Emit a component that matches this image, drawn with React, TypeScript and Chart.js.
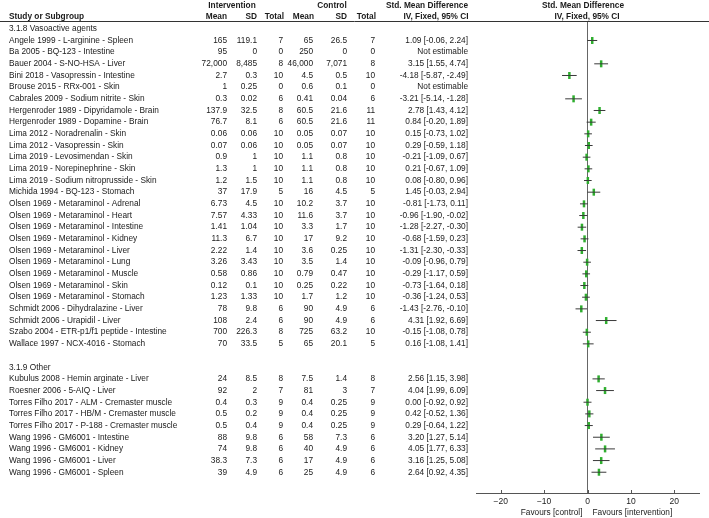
import React, { useEffect, useRef } from "react";
import { Chart, registerables } from "chart.js";

Chart.register(...registerables);

const groupNames = ["3.1.8 Vasoactive agents", "3.1.9 Other"];
const groupSizes = [27, 9];

const studies = [
  "Angele 1999 - L-arginine - Spleen",
  "Ba 2005 - BQ-123 - Intestine",
  "Bauer 2004 - S-NO-HSA - Liver",
  "Bini 2018 - Vasopressin - Intestine",
  "Brouse 2015 - RRx-001 - Skin",
  "Cabrales 2009 - Sodium nitrite - Skin",
  "Hergenroder 1989 - Dipyridamole - Brain",
  "Hergenroder 1989 - Dopamine - Brain",
  "Lima 2012 - Noradrenalin - Skin",
  "Lima 2012 - Vasopressin - Skin",
  "Lima 2019 - Levosimendan - Skin",
  "Lima 2019 - Norepinephrine - Skin",
  "Lima 2019 - Sodium nitroprusside - Skin",
  "Michida 1994 - BQ-123 - Stomach",
  "Olsen 1969 - Metaraminol - Adrenal",
  "Olsen 1969 - Metaraminol - Heart",
  "Olsen 1969 - Metaraminol - Intestine",
  "Olsen 1969 - Metaraminol - Kidney",
  "Olsen 1969 - Metaraminol - Liver",
  "Olsen 1969 - Metaraminol - Lung",
  "Olsen 1969 - Metaraminol - Muscle",
  "Olsen 1969 - Metaraminol - Skin",
  "Olsen 1969 - Metaraminol - Stomach",
  "Schmidt 2006 - Dihydralazine - Liver",
  "Schmidt 2006 - Urapidil - Liver",
  "Szabo 2004 - ETR-p1/f1 peptide - Intestine",
  "Wallace 1997 - NCX-4016 - Stomach",
  "Kubulus 2008 - Hemin arginate - Liver",
  "Roesner 2006 - 5-AIQ - Liver",
  "Torres Filho 2017 - ALM - Cremaster muscle",
  "Torres Filho 2017 - HB/M - Cremaster muscle",
  "Torres Filho 2017 - P-188 - Cremaster muscle",
  "Wang 1996 - GM6001 - Intestine",
  "Wang 1996 - GM6001 - Kidney",
  "Wang 1996 - GM6001 - Liver",
  "Wang 1996 - GM6001 - Spleen",
];

const intMean = [165, 95, 72000, 2.7, 1, 0.3, 137.9, 76.7, 0.06, 0.07, 0.9, 1.3, 1.2, 37, 6.73, 7.57, 1.41, 11.3, 2.22, 3.26, 0.58, 0.12, 1.23, 78, 108, 700, 70, 24, 92, 0.4, 0.5, 0.5, 88, 74, 38.3, 39];
const intSD = [119.1, 0, 8485, 0.3, 0.25, 0.02, 32.5, 8.1, 0.06, 0.06, 1, 1, 1.5, 17.9, 4.5, 4.33, 1.04, 6.7, 1.4, 3.43, 0.86, 0.1, 1.33, 9.8, 2.4, 226.3, 33.5, 8.5, 2, 0.3, 0.2, 0.4, 9.8, 9.8, 7.3, 4.9];
const intTotal = [7, 0, 8, 10, 0, 6, 8, 6, 10, 10, 10, 10, 10, 5, 10, 10, 10, 10, 10, 10, 10, 10, 10, 6, 6, 8, 5, 8, 7, 9, 9, 9, 6, 6, 6, 6];
const ctlMean = [65, 250, 46000, 4.5, 0.6, 0.41, 60.5, 60.5, 0.05, 0.05, 1.1, 1.1, 1.1, 16, 10.2, 11.6, 3.3, 17, 3.6, 3.5, 0.79, 0.25, 1.7, 90, 90, 725, 65, 7.5, 81, 0.4, 0.4, 0.4, 58, 40, 17, 25];
const ctlSD = [26.5, 0, 7071, 0.5, 0.1, 0.04, 21.6, 21.6, 0.07, 0.07, 0.8, 0.8, 0.8, 4.5, 3.7, 3.7, 1.7, 9.2, 0.25, 1.4, 0.47, 0.22, 1.2, 4.9, 4.9, 63.2, 20.1, 1.4, 3, 0.25, 0.25, 0.25, 7.3, 4.9, 4.9, 4.9];
const ctlTotal = [7, 0, 8, 10, 0, 6, 11, 11, 10, 10, 10, 10, 10, 5, 10, 10, 10, 10, 10, 10, 10, 10, 10, 6, 6, 10, 5, 8, 7, 9, 9, 9, 6, 6, 6, 6];
const smd = [1.09, null, 3.15, -4.18, null, -3.21, 2.78, 0.84, 0.15, 0.29, -0.21, 0.21, 0.08, 1.45, -0.81, -0.96, -1.28, -0.68, -1.31, -0.09, -0.29, -0.73, -0.36, -1.43, 4.31, -0.15, 0.16, 2.56, 4.04, 0.0, 0.42, 0.29, 3.2, 4.05, 3.16, 2.64];
const ciLow = [-0.06, null, 1.55, -5.87, null, -5.14, 1.43, -0.2, -0.73, -0.59, -1.09, -0.67, -0.8, -0.03, -1.73, -1.9, -2.27, -1.59, -2.3, -0.96, -1.17, -1.64, -1.24, -2.76, 1.92, -1.08, -1.08, 1.15, 1.99, -0.92, -0.52, -0.64, 1.27, 1.77, 1.25, 0.92];
const ciHigh = [2.24, null, 4.74, -2.49, null, -1.28, 4.12, 1.89, 1.02, 1.18, 0.67, 1.09, 0.96, 2.94, 0.11, -0.02, -0.3, 0.23, -0.33, 0.79, 0.59, 0.18, 0.53, -0.1, 6.69, 0.78, 1.41, 3.98, 6.09, 0.92, 1.36, 1.22, 5.14, 6.33, 5.08, 4.35];

const xTicks = [-20, -10, 0, 10, 20];
const favoursLeft = "Favours [control]";
const favoursRight = "Favours [intervention]";

const FONT = '"Liberation Sans", Arial, sans-serif';
const FS = 8.3;

type Row = { kind: "group" | "study"; pos: number; index: number };

function buildRows(): Row[] {
  const rows: Row[] = [];
  let pos = -1;
  let s = 0;
  groupSizes.forEach((size, g) => {
    rows.push({ kind: "group", pos, index: g });
    pos++;
    for (let k = 0; k < size; k++) {
      rows.push({ kind: "study", pos, index: s });
      s++;
      pos++;
    }
    pos++;
  });
  return rows;
}

const fmt = (v: number) => v.toLocaleString("en-US", { maximumFractionDigits: 3 });

export default function App() {
  const ref = useRef<HTMLCanvasElement | null>(null);

  useEffect(() => {
    document.body.style.margin = "0";
    const canvas = ref.current;
    if (!canvas) return;
    const rows = buildRows();
    const studyRows = rows.filter((r) => r.kind === "study");

    const ciPoints: { x: number; y: number }[] = [];
    const estPoints: { x: number; y: number }[] = [];
    studyRows.forEach((r) => {
      const i = r.index;
      if (smd[i] === null) return;
      ciPoints.push({ x: ciLow[i] as number, y: r.pos });
      ciPoints.push({ x: ciHigh[i] as number, y: r.pos });
      ciPoints.push({ x: NaN, y: NaN });
      estPoints.push({ x: smd[i] as number, y: r.pos });
    });

    const tablePlugin = {
      id: "forestTable",
      afterDraw(chart: any) {
        const ctx = chart.ctx as CanvasRenderingContext2D;
        const ys = chart.scales.y;
        const xs = chart.scales.x;
        ctx.save();
        ctx.fillStyle = "#1a1a1a";
        ctx.textBaseline = "middle";
        const txt = (s: string, px: number, py: number, align: CanvasTextAlign, bold = false) => {
          ctx.font = `${bold ? "bold " : ""}${FS}px ${FONT}`;
          ctx.textAlign = align;
          ctx.fillText(s, px, py);
        };
        // headers
        const h1 = 5.5;
        const h2 = 16.5;
        txt("Intervention", 232, h1, "center", true);
        txt("Control", 332, h1, "center", true);
        txt("Std. Mean Difference", 427, h1, "center", true);
        txt("Std. Mean Difference", 583, h1, "center", true);
        txt("Study or Subgroup", 9, h2, "left", true);
        txt("Mean", 227, h2, "right", true);
        txt("SD", 257, h2, "right", true);
        txt("Total", 284, h2, "right", true);
        txt("Mean", 314, h2, "right", true);
        txt("SD", 347, h2, "right", true);
        txt("Total", 376, h2, "right", true);
        txt("IV, Fixed, 95% CI", 436, h2, "center", true);
        txt("IV, Fixed, 95% CI", 587, h2, "center", true);

        ctx.strokeStyle = "#333";
        ctx.lineWidth = 1;
        ctx.beginPath();
        ctx.moveTo(0, 21.5);
        ctx.lineTo(709, 21.5);
        ctx.stroke();

        rows.forEach((r) => {
          const py = ys.getPixelForValue(r.pos);
          if (r.kind === "group") {
            txt(groupNames[r.index], 9, py, "left");
            return;
          }
          const i = r.index;
          txt(studies[i], 9, py, "left");
          txt(fmt(intMean[i]), 227, py, "right");
          txt(fmt(intSD[i]), 257, py, "right");
          txt(String(intTotal[i]), 283, py, "right");
          txt(fmt(ctlMean[i]), 313, py, "right");
          txt(fmt(ctlSD[i]), 347, py, "right");
          txt(String(ctlTotal[i]), 375, py, "right");
          const e = smd[i];
          const s =
            e === null
              ? "Not estimable"
              : `${e.toFixed(2)} [${(ciLow[i] as number).toFixed(2)}, ${(ciHigh[i] as number).toFixed(2)}]`;
          txt(s, 468, py, "right");
        });

        // tick marks (upward)
        const bottom = chart.chartArea.bottom;
        ctx.strokeStyle = "#555";
        xTicks.forEach((v) => {
          const px = Math.round(xs.getPixelForValue(v)) + 0.5;
          ctx.beginPath();
          ctx.moveTo(px, bottom - 3);
          ctx.lineTo(px, bottom);
          ctx.stroke();
        });

        const zero = xs.getPixelForValue(0);
        txt(favoursLeft, zero - 5, 513, "right");
        txt(favoursRight, zero + 5, 513, "left");
        ctx.restore();
      },
    };

    const chart = new Chart(canvas, {
      type: "scatter",
      data: {
        datasets: [
          {
            type: "line",
            data: ciPoints,
            borderColor: "#3a3a3a",
            borderWidth: 1,
            pointRadius: 0,
            spanGaps: false,
            fill: false,
          } as any,
          {
            type: "scatter",
            data: estPoints,
            pointStyle: "line",
            pointRotation: 90,
            pointRadius: 3.5,
            pointBorderWidth: 2.5,
            pointBorderColor: "#2fae2f",
            pointBackgroundColor: "#2fae2f",
          } as any,
        ],
      },
      options: {
        responsive: false,
        animation: false,
        devicePixelRatio: 1,
        layout: { padding: { left: 476, right: 10, top: 21, bottom: 0 } },
        plugins: { legend: { display: false }, tooltip: { enabled: false } },
        scales: {
          x: {
            type: "linear",
            min: -25.7,
            max: 25.7,
            afterBuildTicks: (s: any) => {
              s.ticks = xTicks.map((v) => ({ value: v }));
            },
            afterFit: (s: any) => {
              s.height = 25;
            },
            grid: {
              drawOnChartArea: true,
              drawTicks: false,
              color: (c: any) => (c.tick && c.tick.value === 0 ? "#666" : "rgba(0,0,0,0)"),
              lineWidth: 1,
            },
            border: { display: true, color: "#555", width: 1 },
            ticks: {
              padding: 4,
              color: "#222",
              font: { size: 8.5, family: FONT },
              callback: (v: any) => (Number(v) < 0 ? "\u2212" + Math.abs(Number(v)) : String(v)),
            },
          },
          y: {
            type: "linear",
            display: false,
            reverse: true,
            min: -1.67,
            max: 38.78,
          },
        },
      } as any,
      plugins: [tablePlugin],
    });
    return () => chart.destroy();
  }, []);

  return (
    <canvas
      ref={ref}
      width={709}
      height={518}
      style={{ display: "block", width: 709, height: 518 }}
    />
  );
}
